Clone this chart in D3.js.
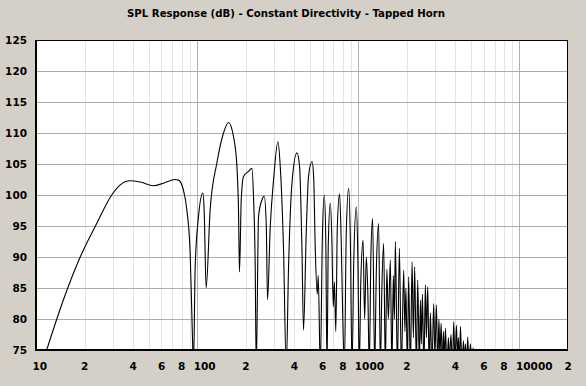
<!DOCTYPE html>
<html>
<head>
<meta charset="utf-8">
<script src="https://cdn.jsdelivr.net/npm/d3@7"></script>
<style>
  html, body { margin: 0; padding: 0; background: #d4d0c8; }
  svg { display: block; }
  text { font-family: "DejaVu Sans", sans-serif; font-weight: bold; fill: #000; }
</style>
</head>
<body>
<svg id="canvas" width="586" height="386"></svg>
<script>
let title = 'SPL Response (dB) - Constant Directivity - Tapped Horn'

let yTicks = [75, 80, 85, 90, 95, 100, 105, 110, 115, 120, 125]
let xTickValues = [10, 20, 40, 60, 80, 100, 200, 400, 600, 800, 1000, 2000, 4000, 6000, 8000, 10000, 20000]
let xTickLabels = ['10', '2', '4', '6', '8', '100', '2', '4', '6', '8', '1000', '2', '4', '6', '8', '10000', '2']
let decades = [100, 1000, 10000]

// frequency (Hz)
let freq = [
    11.65, 14.8, 18.8, 23.8, 29.5, 33.2, 38.4, 44.3, 53.5, 61.8,
    73.0, 76.5, 82.2, 86.3, 90.5, 93.5, 94.8, 97.2, 101.9, 108.5,
    110.5, 113.7, 120.4, 132.6, 145.7, 156.4, 168.1, 176.5, 180.5, 183.1,
    187.7, 193.9, 208.3, 218.7, 223.7, 229.2, 232.6, 240.3, 252.3, 260.7,
    268.3, 273.3, 284.1, 297.8, 317.1, 327.8, 343.6, 357.1, 369, 387.5,
    416, 432, 447, 457, 475, 491, 516, 528, 541, 556,
    564, 581, 598, 615, 628, 639, 651, 670, 685, 699,
    710, 725, 741, 765, 784, 801, 819, 842, 871, 892,
    914, 938, 972, 993, 1014, 1036, 1070, 1094, 1121, 1146,
    1170, 1196, 1227, 1263, 1294, 1337, 1370, 1400, 1436, 1471,
    1503, 1536, 1580, 1615, 1650, 1674, 1698, 1747, 1798, 1850,
    1912, 1945, 1973, 2016, 2053, 2104, 2156, 2196, 2237, 2292,
    2336, 2393, 2427, 2462, 2498, 2552, 2607, 2645, 2695, 2753,
    2800, 2861, 2936, 2987, 3051, 3109, 3163, 3208, 3264, 3325,
    3373, 3422, 3471, 3546, 3623, 3675, 3755, 3837, 3909, 3976,
    4062, 4121, 4180, 4240, 4302, 4395, 4490, 4555, 4620, 4687,
    4775, 4858, 4963, 5034, 5159, 5255
]

// SPL (dB) at each frequency
let spl = [
    75, 83.1, 90.0, 95.4, 100.0, 101.6, 102.3, 102.1, 101.5, 101.9,
    102.5, 102.4, 100.8, 97.6, 90.6, 77, 72, 88.4, 96.5, 100.3,
    97.6, 85.0, 97.6, 105.2, 110, 111.7, 109.4, 104.6, 97.6, 87.6,
    99.2, 103.0, 103.8, 104.3, 99.7, 88.4, 72, 96.5, 99.2, 99.8,
    95.4, 83.1, 94.9, 102.4, 108.6, 104.6, 91.1, 72, 88.4, 101.9,
    106.8, 104.6, 91.1, 78.2, 93.8, 103.0, 105.4, 103, 91, 84,
    87, 72, 93, 100, 93, 72, 92, 98.7, 93, 82,
    86, 78, 95, 100.2, 92, 80, 72, 94, 101.1, 93,
    72, 90, 98.1, 90, 72, 86, 92.7, 80, 90, 84,
    72, 90, 96.2, 72, 88, 95.4, 72, 85, 92.2, 72,
    88, 80, 89.5, 72, 87, 80, 92.5, 72, 91.4, 72,
    87.9, 78, 85, 72, 86.8, 72, 89.2, 77, 88.4, 72,
    86.3, 72, 83, 76, 84, 72, 85.5, 77, 85.2, 72,
    81, 72, 82.5, 74, 82.3, 72, 80, 74, 79.3, 72,
    78, 73, 78.5, 72, 77, 73, 77.5, 72, 79.6, 73,
    79, 74, 77, 72, 78.8, 72, 76.5, 73, 76, 72,
    77.1, 72, 76, 73, 75.3, 73
]

let canvas = d3.select('#canvas')

let plotLeft = 36, plotRight = 568, plotTop = 40, plotBottom = 350

let xScale = d3.scaleLog().domain([10, 20000]).range([plotLeft, plotRight])
let yScale = d3.scaleLinear().domain([75, 125]).range([plotBottom, plotTop])

let drawChart = () => {

    canvas.append('rect')
        .attr('x', plotLeft)
        .attr('y', plotTop)
        .attr('width', plotRight - plotLeft)
        .attr('height', plotBottom - plotTop)
        .attr('fill', '#ffffff')

    // minor vertical grid
    canvas.append('g')
        .selectAll('line')
        .data(xScale.ticks().filter((d) => d > 10 && d < 20000))
        .enter()
        .append('line')
        .attr('x1', (d) => Math.round(xScale(d)) + 0.5)
        .attr('x2', (d) => Math.round(xScale(d)) + 0.5)
        .attr('y1', plotTop)
        .attr('y2', plotBottom)
        .attr('stroke', '#e2e2e2')

    // decade lines
    canvas.append('g')
        .selectAll('line')
        .data(decades)
        .enter()
        .append('line')
        .attr('x1', (d) => Math.round(xScale(d)) + 0.5)
        .attr('x2', (d) => Math.round(xScale(d)) + 0.5)
        .attr('y1', plotTop)
        .attr('y2', plotBottom)
        .attr('stroke', '#b0b0b0')

    // horizontal grid
    canvas.append('g')
        .selectAll('line')
        .data(yTicks)
        .enter()
        .append('line')
        .attr('x1', plotLeft)
        .attr('x2', plotRight)
        .attr('y1', (d) => Math.round(yScale(d)) + 0.5)
        .attr('y2', (d) => Math.round(yScale(d)) + 0.5)
        .attr('stroke', '#acacac')

    canvas.append('clipPath')
        .attr('id', 'plotClip')
        .append('rect')
        .attr('x', plotLeft)
        .attr('y', plotTop)
        .attr('width', plotRight - plotLeft)
        .attr('height', plotBottom - plotTop)

    let points = freq.map((f, i) => [f, spl[i]])

    let line = d3.line()
        .x((d) => xScale(d[0]))
        .y((d) => yScale(d[1]))
        .curve(d3.curveMonotoneX)

    canvas.append('path')
        .datum(points)
        .attr('clip-path', 'url(#plotClip)')
        .attr('d', line)
        .attr('fill', 'none')
        .attr('stroke', '#000')
        .attr('stroke-width', 1.1)

    // frame
    canvas.append('rect')
        .attr('x', plotLeft + 0.5)
        .attr('y', plotTop + 0.5)
        .attr('width', plotRight - plotLeft - 1)
        .attr('height', plotBottom - plotTop - 1)
        .attr('fill', 'none')
        .attr('stroke', '#000')
    canvas.append('line')
        .attr('x1', plotLeft - 0.5).attr('x2', plotLeft - 0.5)
        .attr('y1', plotTop).attr('y2', plotBottom + 1)
        .attr('stroke', '#000')
    canvas.append('line')
        .attr('x1', plotLeft - 1).attr('x2', plotRight)
        .attr('y1', plotBottom + 0.5).attr('y2', plotBottom + 0.5)
        .attr('stroke', '#000')

    // y labels
    canvas.append('g')
        .selectAll('text')
        .data(yTicks)
        .enter()
        .append('text')
        .attr('x', 27)
        .attr('y', (d) => yScale(d) + 4)
        .attr('text-anchor', 'end')
        .attr('font-size', '10.5px')
        .text((d) => d)

    // x labels
    canvas.append('g')
        .selectAll('text')
        .data(xTickValues)
        .enter()
        .append('text')
        .attr('x', (d) => xScale(d) - 3.5)
        .attr('y', 370)
        .attr('font-size', '10.5px')
        .text((d, i) => xTickLabels[i])

    canvas.append('text')
        .attr('x', 127)
        .attr('y', 17)
        .attr('font-size', '11px')
        .attr('textLength', 318)
        .attr('lengthAdjust', 'spacingAndGlyphs')
        .text(title)
}

drawChart()
</script>
</body>
</html>
